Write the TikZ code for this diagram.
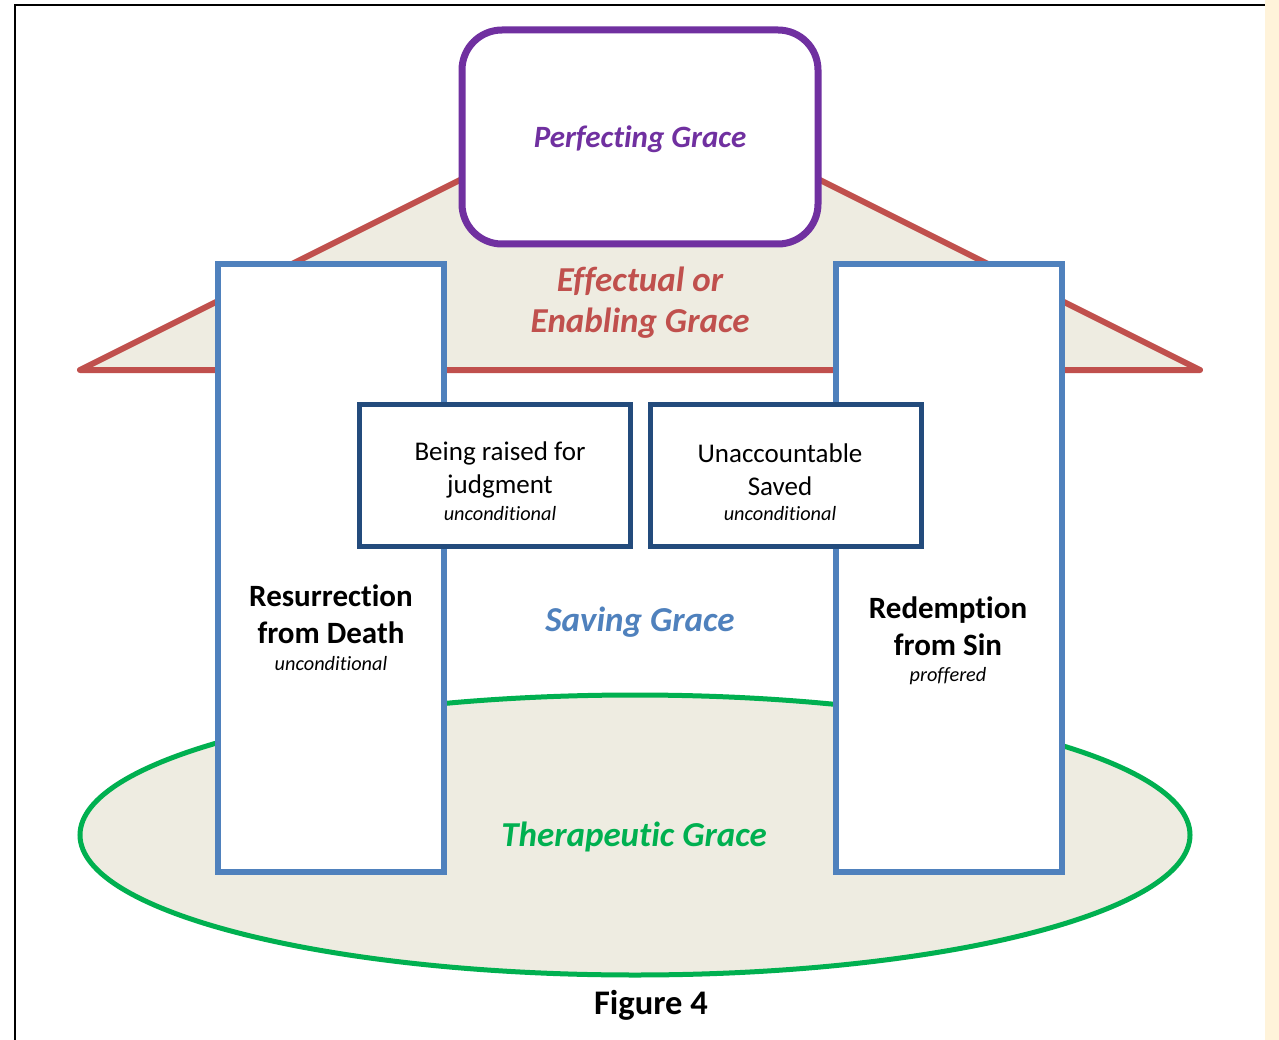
\documentclass[tikz,border=0pt]{standalone}
\usepackage{fontspec}
\setmainfont{Carlito}[RawFeature={-liga;-clig;-dlig;-rlig;-calt}]
\usetikzlibrary{shapes.geometric}
\newcommand\myti{t\kern0pt i}
\definecolor{cpurple}{HTML}{7030A0}
\definecolor{cred}{HTML}{C0504D}
\definecolor{cblue}{HTML}{4F81BD}
\definecolor{cdark}{HTML}{234B7C}
\definecolor{cgreen}{HTML}{00B050}
\definecolor{cbeige}{HTML}{EEECE1}
\definecolor{cstrip}{HTML}{FFF3DA}
\tikzset{
  pillar/.style={draw=cblue, line width=6pt, fill=white, minimum width=226pt, minimum height=608pt, inner sep=0pt},
  subbox/.style={draw=cdark, line width=5pt, fill=white, minimum width=271pt, minimum height=142pt, inner sep=0pt},
  topbox/.style={draw=cpurple, line width=7pt, fill=white, rounded corners=40pt, minimum width=356pt, minimum height=214pt, inner sep=0pt},
  base/.style={ellipse, draw=cgreen, line width=5pt, fill=cbeige, minimum width=1110pt, minimum height=280pt, inner sep=0pt},
  gracetxt/.style={font=\bfseries\itshape, align=center, inner sep=0pt},
  pillartxt/.style={font=\bfseries, align=center, inner sep=0pt},
  boxtxt/.style={align=center, inner sep=0pt},
  smallit/.style={font=\fontsize{20.3}{22}\selectfont\itshape, inner sep=0pt},
}
\begin{document}
\begin{tikzpicture}[x=1pt,y=-1pt]
\useasboundingbox (0,0) rectangle (1279,1040);
\fill[white] (0,0) rectangle (1279,1040);
\fill[cstrip] (1265,0) rectangle (1279,1040);
\draw[black, line width=1.5pt] (15,1040) -- (15,5) -- (1265,5);
% base ellipse
\node[base] (ell) at (635,835) {};
% roof
\coordinate (rl) at (80,370);
\coordinate (ra) at (640,90);
\coordinate (rr) at (1200,370);
\draw[cred, line width=6pt, fill=cbeige, line join=round] (rl) -- (ra) -- (rr) -- cycle;
% top box
\node[topbox] (top) at (640,137) {};
\node[gracetxt, text=cpurple, font=\fontsize{31}{36}\selectfont\bfseries\itshape] (ptxt) at (640,139) {Perfec\myti ng Grace};
\node[gracetxt, text=cred, font=\fontsize{35}{41}\selectfont\bfseries\itshape] (etxt) at (640,303) {Effectual or\\Enabling Grace};
% pillars
\node[pillar] (lp) at (331,568) {};
\node[pillar] (rp) at (949,568) {};
% sub boxes
\node[subbox] (b1) at (494.5,475) {};
\node[subbox] (b2) at (785.5,475) {};
% texts
\node[pillartxt, font=\fontsize{31}{37}\selectfont\bfseries] (lt) at (331,614) {Resurrec\myti on\\from Death};
\node[smallit] (lu) at (331,664) {uncondi\myti onal};
\node[pillartxt, font=\fontsize{31}{37}\selectfont\bfseries] (rt) at (948,626) {Redemp\myti on\\from Sin};
\node[smallit] (ru) at (948,676) {proffered};
\node[boxtxt, font=\fontsize{27}{33}\selectfont] (b1t) at (500,470) {Being raised for\\judgment};
\node[smallit] (b1u) at (500,514) {uncondi\myti onal};
\node[boxtxt, font=\fontsize{27}{33}\selectfont] (b2t) at (780,470) {Unaccountable\\Saved};
\node[smallit] (b2u) at (780,514) {uncondi\myti onal};
\node[gracetxt, text=cblue, font=\fontsize{35}{40}\selectfont\bfseries\itshape] (sg) at (640,622) {Saving Grace};
\node[gracetxt, text=cgreen, font=\fontsize{35}{40}\selectfont\bfseries\itshape] (tg) at (634,837) {Therapeu\myti c Grace};
\node[pillartxt, font=\fontsize{34.5}{40}\selectfont\bfseries] (fig) at (651,1005) {Figure 4};
\end{tikzpicture}
\end{document}
